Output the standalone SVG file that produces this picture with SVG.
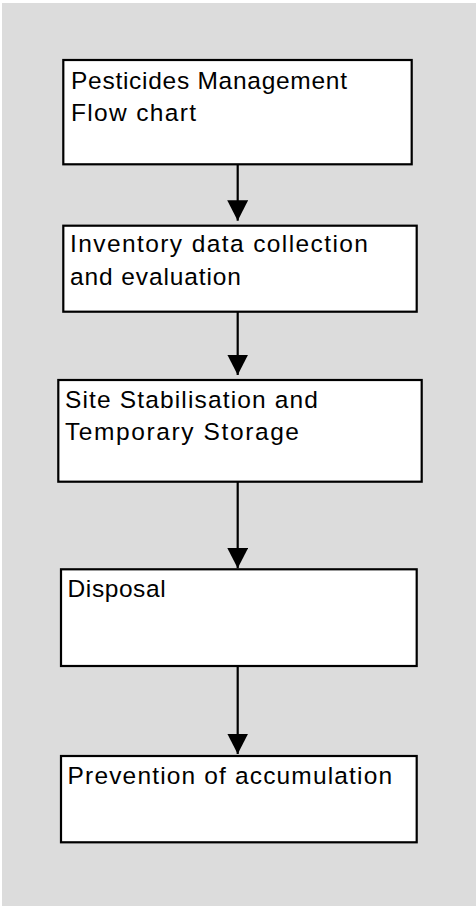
<svg xmlns="http://www.w3.org/2000/svg" width="476" height="908" viewBox="0 0 476 908">
<style>
.box{fill:#ffffff;stroke:#000000;stroke-width:2.2}
.lbl{font-family:"Liberation Sans",Arial,sans-serif;font-size:24.5px;fill:#000000}
.conn{stroke:#000000;stroke-width:2.2;fill:none}
</style>
<defs>
<marker id="ah" markerUnits="userSpaceOnUse" markerWidth="22" markerHeight="22" refX="20.5" refY="10.5" orient="auto">
<path d="M0,0 L20.5,10.5 L0,21 Z" fill="#000000"/>
</marker>
</defs>
<rect x="2" y="3" width="474" height="903" fill="#dcdcdc"/>
<g id="connectors">
<line class="conn" x1="237.7" y1="164.3" x2="237.7" y2="220.7" marker-end="url(#ah)"/>
<line class="conn" x1="237.7" y1="311.7" x2="237.7" y2="375" marker-end="url(#ah)"/>
<line class="conn" x1="237.7" y1="481.7" x2="237.7" y2="568.3" marker-end="url(#ah)"/>
<line class="conn" x1="237.7" y1="666" x2="237.7" y2="754" marker-end="url(#ah)"/>
</g>
<g id="node1">
<rect class="box" x="63.3" y="60" width="348.4" height="104.3"/>
<text class="lbl" x="71" y="88.5" textLength="276" lengthAdjust="spacing">Pesticides Management</text>
<text class="lbl" x="71" y="120.5" textLength="125" lengthAdjust="spacing">Flow chart</text>
</g>
<g id="node2">
<rect class="box" x="63.3" y="225.7" width="353.4" height="86"/>
<text class="lbl" x="70" y="251.7" textLength="298" lengthAdjust="spacing">Inventory data collection</text>
<text class="lbl" x="70" y="285" textLength="171" lengthAdjust="spacing">and evaluation</text>
</g>
<g id="node3">
<rect class="box" x="58.3" y="380" width="363.4" height="101.7"/>
<text class="lbl" x="65" y="408.3" textLength="253" lengthAdjust="spacing">Site Stabilisation and</text>
<text class="lbl" x="65" y="440" textLength="234" lengthAdjust="spacing">Temporary Storage</text>
</g>
<g id="node4">
<rect class="box" x="61" y="569.3" width="355.7" height="96.7"/>
<text class="lbl" x="67.6" y="597.3" textLength="98" lengthAdjust="spacing">Disposal</text>
</g>
<g id="node5">
<rect class="box" x="61" y="756" width="355.7" height="86.3"/>
<text class="lbl" x="67.6" y="784" textLength="324.5" lengthAdjust="spacing">Prevention of accumulation</text>
</g>
</svg>
